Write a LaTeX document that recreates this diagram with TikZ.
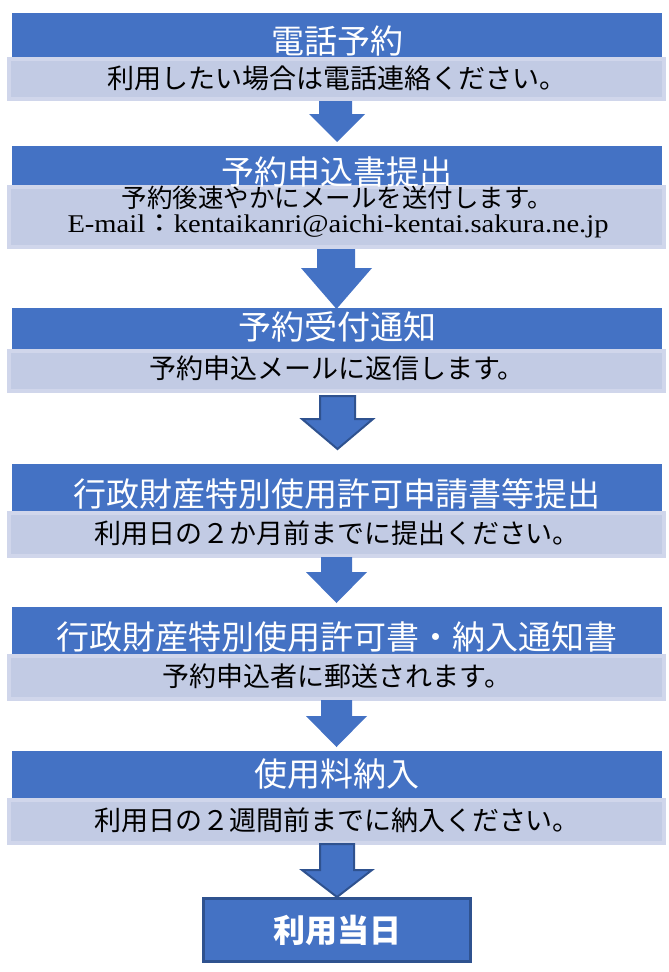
\documentclass[tikz,border=0pt]{standalone}
\usepackage{fontspec}
\setmainfont{Liberation Serif}
\newfontfamily\jp{Noto Sans CJK JP}
\definecolor{hdblue}{HTML}{4472C4}
\definecolor{hddark}{HTML}{2F528F}
\definecolor{subfill}{RGB}{194,203,228}
\definecolor{subedge}{RGB}{208,214,235}
\tikzset{
  hdbox/.style={rectangle, fill=hdblue, draw=none, inner sep=0pt, minimum width=650pt},
  subbox/.style={rectangle, fill=subfill, draw=subedge, line width=4pt, inner sep=0pt, minimum width=655pt},
  titletext/.style={anchor=base, inner sep=0pt, text=white, font=\jp\fontsize{33}{33}\selectfont},
  subtext/.style={anchor=base, inner sep=0pt, text=black, font=\jp\fontsize{27}{27}\selectfont},
  arrowplain/.style={fill=hdblue, draw=none},
  arrowedged/.style={fill=hdblue, draw=hddark, line width=2pt, line join=miter},
  endbox/.style={rectangle, fill=hdblue, draw=hddark, line width=3pt, inner sep=0pt, minimum width=267pt, minimum height=63pt, text=white, font=\jp\bfseries\fontsize{32}{32}\selectfont}
}
\begin{document}
\begin{tikzpicture}[x=1pt,y=-1pt]
\useasboundingbox (0,0) rectangle (669,972);
% step 1
\node[hdbox, minimum height=44pt] (h1) at (337,35) {};
\node[subbox, minimum height=40pt] (s1) at (336.5,79) {};
\node[titletext] (t1) at (337,53.5) {電話予約};
\node[subtext] (u1) at (337,88) {利用したい場合は電話連絡ください。};
% step 2
\node[hdbox, minimum height=39pt] (h2) at (337,165.5) {};
\node[subbox, minimum height=60pt] (s2) at (336.5,217) {};
\node[titletext] (t2) at (337,184) {予約申込書提出};
\node[subtext, font=\jp\fontsize{25.5}{25.5}\selectfont] (u2) at (337,207.5) {予約後速やかにメールを送付します。};
\node[anchor=base, inner sep=0pt, font=\fontsize{25.5}{25.5}\selectfont] (u2b) at (338,232) {\scalebox{1.12}[1]{E-mail{\jp ：}kentaikanri@aichi-kentai.sakura.ne.jp}};
% step 3
\node[hdbox, minimum height=41pt] (h3) at (337,328.5) {};
\node[subbox, minimum height=40pt] (s3) at (336.5,371) {};
\node[titletext] (t3) at (337,339.5) {予約受付通知};
\node[subtext] (u3) at (337,378) {予約申込メールに返信します。};
% step 4
\node[hdbox, minimum height=47pt] (h4) at (337,487.5) {};
\node[subbox, minimum height=43pt] (s4) at (336.5,534.5) {};
\node[titletext] (t4) at (337,506.5) {行政財産特別使用許可申請書等提出};
\node[subtext] (u4) at (337,543) {利用日の２か月前までに提出ください。};
% step 5
\node[hdbox, minimum height=47pt] (h5) at (337,630.5) {};
\node[subbox, minimum height=43pt] (s5) at (336.5,677.5) {};
\node[titletext] (t5) at (337,649) {行政財産特別使用許可書・納入通知書};
\node[subtext] (u5) at (337,686) {予約申込者に郵送されます。};
% step 6
\node[hdbox, minimum height=47pt] (h6) at (337,774.5) {};
\node[subbox, minimum height=43pt] (s6) at (336.5,821.5) {};
\node[titletext] (t6) at (337,786) {使用料納入};
\node[subtext] (u6) at (337,830) {利用日の２週間前までに納入ください。};
% final
\node[endbox] (fin) at (337,930) {利用当日};
% arrows
\path[arrowplain] (319,101) -- (352,101) -- (352,114) -- (365,114) -- (337,142) -- (309,114) -- (319,114) -- cycle;
\path[arrowplain] (317,249) -- (355,249) -- (355,268) -- (372,268) -- (336.5,309) -- (301,268) -- (317,268) -- cycle;
\draw[arrowedged] (320,396) -- (355,396) -- (355,419) -- (373,419) -- (337.5,449) -- (302,419) -- (320,419) -- cycle;
\path[arrowplain] (321,557) -- (352,557) -- (352,572) -- (367,572) -- (336.5,603) -- (306,572) -- (321,572) -- cycle;
\path[arrowplain] (321,700) -- (352,700) -- (352,716) -- (367,716) -- (336.5,747) -- (306,716) -- (321,716) -- cycle;
\draw[arrowedged] (320,844) -- (354,844) -- (354,870) -- (372,870) -- (337,897) -- (302,870) -- (320,870) -- cycle;
\end{tikzpicture}
\end{document}
